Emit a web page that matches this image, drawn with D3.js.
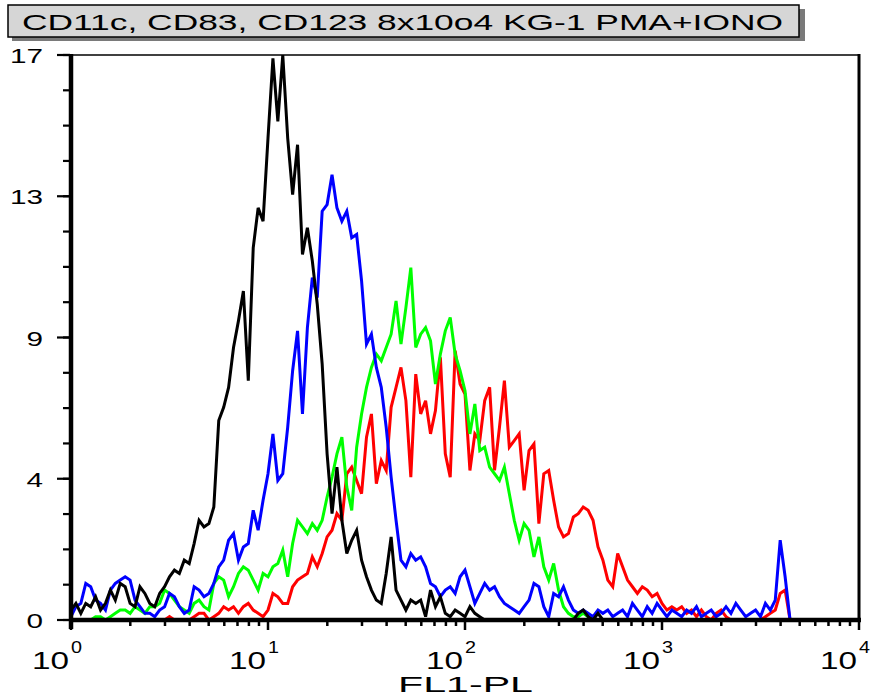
<!DOCTYPE html>
<html>
<head>
<meta charset="utf-8">
<script src="https://cdn.jsdelivr.net/npm/d3@7"></script>
<style>
  html, body { margin: 0; padding: 0; background: #fff; }
  svg { display: block; font-family: Arial, "Liberation Sans", sans-serif; }
</style>
</head>
<body>
<svg id="chart" width="875" height="698"></svg>
<script>
// histogram channels: 40 channels per decade, starting at 10^0
var CHANNELS_PER_DECADE = 40

// counts, one value per channel
var blackCounts = [
  0.3,0.5,0.2,0.5,0.4,0.7,0.3,0.5,0.9,0.6,
  1.1,1.0,0.5,0.4,1.0,0.8,0.5,0.4,0.8,1.0,
  1.3,1.5,1.4,1.8,1.7,2.3,3.0,2.8,2.9,3.4,
  6.0,6.4,7.0,8.2,9.0,9.9,7.2,11.2,12.4,12.0,
  14.5,16.9,15.0,17.0,14.5,12.8,14.3,11.0,11.8,10.8,
  9.5,7.7,5.0,3.2,4.6,3.0,2.0,2.4,2.7,1.8,
  1.3,0.9,0.6,0.5,1.4,2.5,0.9,0.6,0.3,0.6,
  0.5,0.6,0.1,0.9,0.4,0.7,0.2,0.1,0.3,0.2,
  0.1,0.4,0.2,0.1,0,0,0,0,0,0,
  0,0,0,0,0,0,0,0,0,0,
  0,0,0,0.2,0.3,0.1,0,0.2,0,0
]
var blueCounts = [
  0.1,0.4,0.5,1.1,1.0,0.6,0.5,0.3,0.9,1.1,
  1.2,1.3,1.2,0.6,0.4,0.2,0.2,0.1,0.3,0.4,
  0.8,0.7,0.4,0.2,0.3,1.0,0.9,0.7,0.8,1.1,
  1.6,1.8,2.4,2.6,1.8,2.2,2.3,3.3,2.7,3.6,
  4.4,5.6,4.2,4.4,5.8,7.5,8.7,6.2,8.8,10.3,
  9.7,12.3,12.5,13.4,12.4,12.0,12.3,11.5,11.6,10.2,
  8.3,8.6,7.6,7.0,5.8,4.3,3.0,1.8,1.6,2.0,
  1.8,1.9,1.6,1.1,1.0,0.7,0.9,1.0,0.8,1.3,
  1.5,1.0,0.5,0.8,1.1,0.9,1.0,0.7,0.5,0.4,
  0.3,0.2,0.4,0.6,1.1,1.0,0.4,0.1,0.8,0.7,
  1.0,0.6,0.3,0.2,0.3,0.2,0.1,0.3,0.2,0.3,
  0.1,0.2,0.3,0.1,0.5,0.3,0.1,0.4,0.2,0.5,
  0.3,0.1,0.3,0.2,0.1,0.3,0.2,0.4,0.1,0.2,
  0.3,0.1,0.2,0.4,0.2,0.5,0.3,0.1,0.2,0.3,
  0.1,0.5,0.3,0.6,2.4,1.3,0
]
var greenCounts = [
  0,0,0,0,0,0.1,0.1,0,0.1,0.2,
  0.3,0.3,0.2,0.4,0.3,0.2,0.4,0.4,0.5,0.9,
  0.8,0.6,0.4,0.3,0.2,0.5,0.6,0.4,0.3,1.1,
  1.3,1.2,0.7,1.0,1.4,1.6,1.5,1.2,0.9,1.4,
  1.3,1.6,1.7,2.1,1.3,2.3,3.0,2.8,2.6,2.9,
  2.7,3.0,3.7,4.3,5.0,5.5,4.0,3.3,5.2,6.2,
  7.0,7.6,8.0,7.8,8.2,8.6,9.6,8.3,9.4,10.6,
  8.2,8.6,8.8,8.4,7.1,8.0,8.7,9.1,8.0,7.5,
  6.9,5.6,6.5,5.1,5.2,4.6,4.4,4.2,4.6,3.8,
  3.0,2.4,2.9,2.7,1.9,2.5,1.6,1.2,1.7,0.9,
  0.4,0.2,0.1,0.1,0.2,0.1,0
]
var redCounts = [
  0,0,0,0,0,0,0,0,0,0,
  0,0,0,0,0,0,0,0,0,0,
  0.1,0,0,0,0,0.1,0.2,0.2,0,0.1,
  0.2,0.4,0.3,0.4,0.2,0.4,0.5,0.3,0.2,0.1,
  0.3,0.8,0.7,0.5,0.5,1.0,1.2,1.3,1.4,1.9,
  1.6,2.0,2.5,2.7,3.2,3.0,4.4,4.6,4.2,3.8,
  5.5,6.2,4.1,4.8,4.5,6.4,7.0,7.6,6.6,4.3,
  7.4,6.2,6.6,5.6,6.3,7.9,5.0,4.3,8.1,7.1,
  6.8,4.5,5.6,5.4,6.6,7.0,4.5,5.8,7.2,5.2,
  5.4,5.6,3.9,5.1,5.3,2.9,4.4,4.5,3.6,2.8,
  2.5,2.6,3.1,3.2,3.4,3.3,3.0,2.2,1.8,1.2,
  1.0,2.0,1.6,1.2,1.0,0.8,1.0,0.9,0.7,0.8,
  0.5,0.3,0.4,0.3,0.4,0.2,0.3,0.1,0.3,0.1,
  0,0.2,0.3,0.1,0,0,0,0,0,0,
  0,0.1,0.2,0.3,0.8,0.9,0
]

var seriesList = [
  { name: 'red', counts: redCounts, color: '#ff0000' },
  { name: 'green', counts: greenCounts, color: '#00ff00' },
  { name: 'blue', counts: blueCounts, color: '#0000ff' },
  { name: 'black', counts: blackCounts, color: '#000000' }
]

var TITLE = 'CD11c, CD83, CD123 8x10o4 KG-1 PMA+IONO'
var X_LABEL = 'FL1-PL'
var X_DECADES = [0, 1, 2, 3, 4]
var Y_MAX = 17
var Y_MAJOR = [0, 4.25, 8.5, 12.75, 17]

var svg = d3.select('#chart')
var x = d3.scaleLog().domain([1, 10000]).range([71, 859])
var y = d3.scaleLinear().domain([0, Y_MAX]).range([620, 55])

// title box with drop shadow
svg.append('rect')
  .attr('x', 12).attr('y', 9).attr('width', 793).attr('height', 32)
  .attr('fill', '#7a7a7a')
svg.append('rect')
  .attr('x', 8).attr('y', 5).attr('width', 791).attr('height', 32)
  .attr('fill', '#d6d6d6').attr('stroke', '#000').attr('stroke-width', 1.5)
svg.append('text')
  .attr('x', 22).attr('y', 30)
  .attr('font-size', 22)
  .attr('textLength', 761).attr('lengthAdjust', 'spacingAndGlyphs')
  .text(TITLE)

// histogram lines
var line = d3.line()
  .x(function (d, i) { return x(Math.pow(10, i / CHANNELS_PER_DECADE)) })
  .y(function (d) { return y(d) })

svg.append('g')
  .selectAll('path')
  .data(seriesList)
  .join('path')
  .attr('d', function (s) { return line(s.counts) })
  .attr('fill', 'none')
  .attr('stroke', function (s) { return s.color })
  .attr('stroke-width', 3)
  .attr('stroke-linejoin', 'miter')

// frame: thin top, heavier right
svg.append('line').attr('x1', 70).attr('x2', 860).attr('y1', 55).attr('y2', 55)
  .attr('stroke', '#000').attr('stroke-width', 1.6)
svg.append('line').attr('x1', 859).attr('x2', 859).attr('y1', 54).attr('y2', 621)
  .attr('stroke', '#000').attr('stroke-width', 3)

// y axis
var yAxis = svg.append('g').attr('class', 'y-axis')
yAxis.selectAll('line.minor')
  .data(d3.range(0, 17).map(function (k) { return k * Y_MAX / 16 }))
  .join('line')
  .attr('class', 'minor')
  .attr('x1', 63).attr('x2', 70)
  .attr('y1', function (d) { return y(d) }).attr('y2', function (d) { return y(d) })
  .attr('stroke', '#000').attr('stroke-width', 2.2)
yAxis.selectAll('line.major')
  .data(Y_MAJOR)
  .join('line')
  .attr('class', 'major')
  .attr('x1', 57).attr('x2', 70)
  .attr('y1', function (d) { return y(d) }).attr('y2', function (d) { return y(d) })
  .attr('stroke', '#000').attr('stroke-width', 2.2)
yAxis.selectAll('text')
  .data(Y_MAJOR)
  .join('text')
  .attr('x', 43)
  .attr('y', function (d) { return y(d) + 8 })
  .attr('text-anchor', 'end')
  .attr('font-size', 21)
  .attr('textLength', function (d) { return String(Math.round(d)).length * 16.5 })
  .attr('lengthAdjust', 'spacingAndGlyphs')
  .text(function (d) { return Math.round(d) })
yAxis.append('line').attr('x1', 71).attr('x2', 71).attr('y1', 54).attr('y2', 629)
  .attr('stroke', '#000').attr('stroke-width', 4.5)

// x axis
var xAxis = svg.append('g').attr('class', 'x-axis')
var minorX = []
for (var dec = 0; dec < 4; dec++) {
  for (var m = 2; m <= 9; m++) minorX.push(m * Math.pow(10, dec))
}
xAxis.selectAll('line.minor')
  .data(minorX)
  .join('line')
  .attr('class', 'minor')
  .attr('x1', function (d) { return x(d) }).attr('x2', function (d) { return x(d) })
  .attr('y1', 620).attr('y2', 626)
  .attr('stroke', '#000').attr('stroke-width', 2.5)
xAxis.selectAll('line.major')
  .data(X_DECADES)
  .join('line')
  .attr('class', 'major')
  .attr('x1', function (d) { return x(Math.pow(10, d)) }).attr('x2', function (d) { return x(Math.pow(10, d)) })
  .attr('y1', 620).attr('y2', 630)
  .attr('stroke', '#000').attr('stroke-width', 2.5)
xAxis.append('line').attr('x1', 69).attr('x2', 861).attr('y1', 620).attr('y2', 620)
  .attr('stroke', '#000').attr('stroke-width', 4.5)

var xLabels = xAxis.selectAll('g.tick-label')
  .data(X_DECADES)
  .join('g')
  .attr('class', 'tick-label')
  .attr('transform', function (d) { return 'translate(' + x(Math.pow(10, d)) + ',0)' })
xLabels.append('text')
  .attr('x', -2).attr('y', 669)
  .attr('text-anchor', 'end')
  .attr('font-size', 23)
  .attr('textLength', 37).attr('lengthAdjust', 'spacingAndGlyphs')
  .text('10')
xLabels.append('text')
  .attr('x', 0).attr('y', 653)
  .attr('font-size', 17)
  .attr('textLength', 11).attr('lengthAdjust', 'spacingAndGlyphs')
  .text(function (d) { return d })

svg.append('text')
  .attr('x', 398).attr('y', 692)
  .attr('font-size', 22)
  .attr('textLength', 135).attr('lengthAdjust', 'spacingAndGlyphs')
  .text(X_LABEL)
</script>
</body>
</html>
